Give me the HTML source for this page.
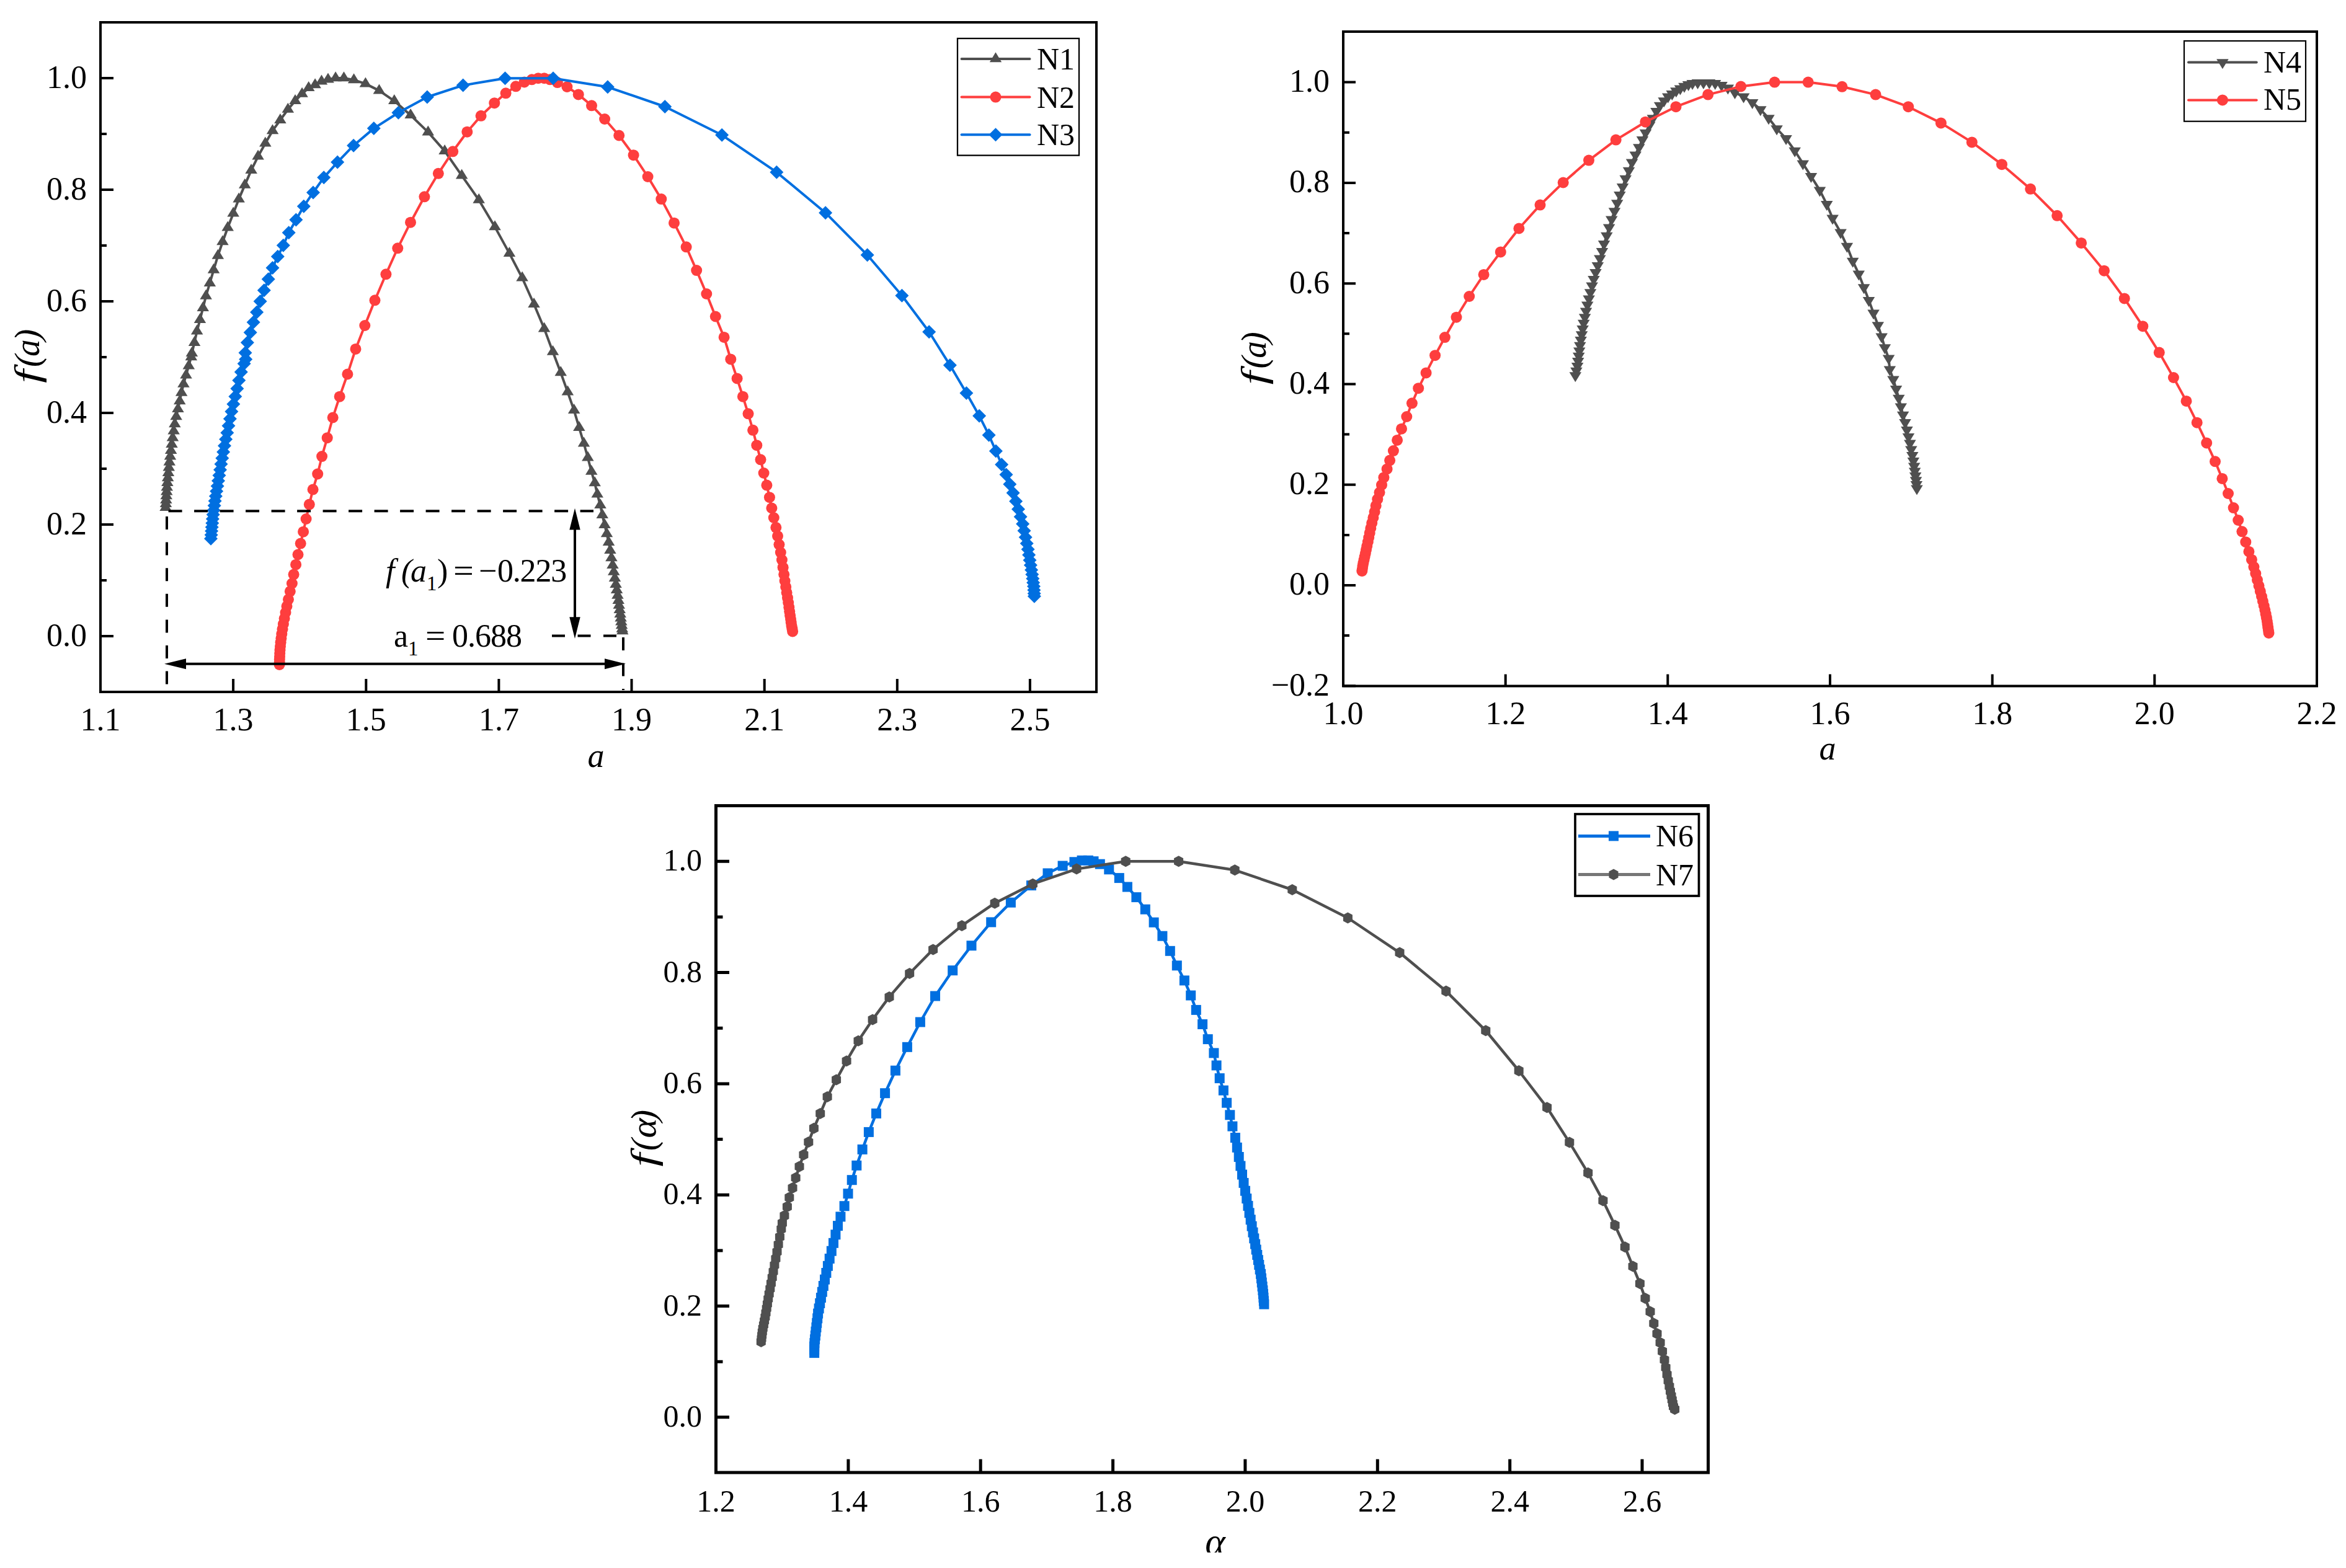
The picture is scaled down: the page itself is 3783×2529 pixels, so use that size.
<!DOCTYPE html>
<html><head><meta charset="utf-8"><style>html,body{margin:0;padding:0;background:#fff;overflow:hidden}svg{display:block}</style></head><body>
<svg width="3783" height="2529" viewBox="0 0 3783 2529">
<rect x="0" y="0" width="3783" height="2529" fill="#fff"/>
<rect x="162" y="36" width="1606" height="1080" fill="none" stroke="#000" stroke-width="4"/>
<path d="M162 1026H183M162 846H183M162 666H183M162 486H183M162 306H183M162 126H183M162 936H172M162 756H172M162 576H172M162 396H172M162 216H172M376.1 1116V1095M590.3 1116V1095M804.4 1116V1095M1018.5 1116V1095M1232.7 1116V1095M1446.8 1116V1095M1660.9 1116V1095" stroke="#000" stroke-width="4"/>
<g font-family="Liberation Serif, serif" font-size="52" fill="#000"><text x="140" y="1041.5" text-anchor="end">0.0</text>
<text x="140" y="861.5" text-anchor="end">0.2</text>
<text x="140" y="681.5" text-anchor="end">0.4</text>
<text x="140" y="501.5" text-anchor="end">0.6</text>
<text x="140" y="321.5" text-anchor="end">0.8</text>
<text x="140" y="141.5" text-anchor="end">1.0</text>
<text x="162" y="1178" text-anchor="middle">1.1</text>
<text x="376.1" y="1178" text-anchor="middle">1.3</text>
<text x="590.3" y="1178" text-anchor="middle">1.5</text>
<text x="804.4" y="1178" text-anchor="middle">1.7</text>
<text x="1018.5" y="1178" text-anchor="middle">1.9</text>
<text x="1232.7" y="1178" text-anchor="middle">2.1</text>
<text x="1446.8" y="1178" text-anchor="middle">2.3</text>
<text x="1660.9" y="1178" text-anchor="middle">2.5</text></g>
<rect x="2166" y="51" width="1570" height="1055.5" fill="none" stroke="#000" stroke-width="4"/>
<path d="M2166 1106.3H2186M2166 944H2186M2166 781.7H2186M2166 619.4H2186M2166 457.2H2186M2166 294.9H2186M2166 132.6H2186M2166 1025.1H2176M2166 862.9H2176M2166 700.6H2176M2166 538.3H2176M2166 376H2176M2166 213.7H2176M2427.7 1106.5V1087.5M2689.3 1106.5V1087.5M2951 1106.5V1087.5M3212.7 1106.5V1087.5M3474.3 1106.5V1087.5" stroke="#000" stroke-width="4"/>
<g font-family="Liberation Serif, serif" font-size="52" fill="#000"><text x="3000" y="0" text-anchor="end" transform="translate(-856 1121.6)">−0.2</text>
<text x="3000" y="0" text-anchor="end" transform="translate(-856 959.3)">0.0</text>
<text x="3000" y="0" text-anchor="end" transform="translate(-856 797)">0.2</text>
<text x="3000" y="0" text-anchor="end" transform="translate(-856 634.7)">0.4</text>
<text x="3000" y="0" text-anchor="end" transform="translate(-856 472.5)">0.6</text>
<text x="3000" y="0" text-anchor="end" transform="translate(-856 310.2)">0.8</text>
<text x="3000" y="0" text-anchor="end" transform="translate(-856 147.9)">1.0</text>
<text x="2166" y="1168" text-anchor="middle">1.0</text>
<text x="2427.7" y="1168" text-anchor="middle">1.2</text>
<text x="2689.3" y="1168" text-anchor="middle">1.4</text>
<text x="2951" y="1168" text-anchor="middle">1.6</text>
<text x="3212.7" y="1168" text-anchor="middle">1.8</text>
<text x="3474.3" y="1168" text-anchor="middle">2.0</text>
<text x="3736" y="1168" text-anchor="middle">2.2</text></g>
<rect x="1154.5" y="1299.5" width="1600" height="1075.5" fill="none" stroke="#000" stroke-width="5"/>
<path d="M1154.5 2285.8H1176M1154.5 2106.5H1176M1154.5 1927.2H1176M1154.5 1747.9H1176M1154.5 1568.6H1176M1154.5 1389.3H1176M1154.5 2196.2H1165.5M1154.5 2016.9H1165.5M1154.5 1837.6H1165.5M1154.5 1658.2H1165.5M1154.5 1479H1165.5M1367.9 2375V2353.5M1581.2 2375V2353.5M1794.6 2375V2353.5M2007.9 2375V2353.5M2221.3 2375V2353.5M2434.7 2375V2353.5M2648 2375V2353.5" stroke="#000" stroke-width="5"/>
<g font-family="Liberation Serif, serif" font-size="50" fill="#000"><text x="1132" y="2300.8" text-anchor="end">0.0</text>
<text x="1132" y="2121.5" text-anchor="end">0.2</text>
<text x="1132" y="1942.2" text-anchor="end">0.4</text>
<text x="1132" y="1762.9" text-anchor="end">0.6</text>
<text x="1132" y="1583.6" text-anchor="end">0.8</text>
<text x="1132" y="1404.3" text-anchor="end">1.0</text>
<text x="1154.5" y="2437.5" text-anchor="middle">1.2</text>
<text x="1367.9" y="2437.5" text-anchor="middle">1.4</text>
<text x="1581.2" y="2437.5" text-anchor="middle">1.6</text>
<text x="1794.6" y="2437.5" text-anchor="middle">1.8</text>
<text x="2007.9" y="2437.5" text-anchor="middle">2.0</text>
<text x="2221.3" y="2437.5" text-anchor="middle">2.2</text>
<text x="2434.7" y="2437.5" text-anchor="middle">2.4</text>
<text x="2648" y="2437.5" text-anchor="middle">2.6</text></g>
<g font-family="Liberation Serif, serif" fill="#000"><text transform="translate(63 618) rotate(-90) scale(1.35 1)" font-style="italic" font-size="58">f</text>
<text transform="translate(63 591.9) rotate(-90) scale(1.0 1)" font-style="italic" font-size="58">(</text>
<text transform="translate(63 574.9) rotate(-90) scale(0.95 1)" font-style="italic" font-size="58">a</text>
<text transform="translate(63 550.1) rotate(-90) scale(1.0 1)" font-style="italic" font-size="58">)</text>
<text x="961" y="1237" text-anchor="middle" font-style="italic" font-size="54">a</text>
<text transform="translate(2041.4 620.4) rotate(-90) scale(1.35 1)" font-style="italic" font-size="58">f</text>
<text transform="translate(2041.4 594.6) rotate(-90) scale(1.0 1)" font-style="italic" font-size="58">(</text>
<text transform="translate(2041.4 577.7) rotate(-90) scale(0.95 1)" font-style="italic" font-size="58">a</text>
<text transform="translate(2041.4 554.4) rotate(-90) scale(1.0 1)" font-style="italic" font-size="58">)</text>
<text x="2947" y="1225" text-anchor="middle" font-style="italic" font-size="54">a</text>
<text transform="translate(1056.5 1881.8) rotate(-90) scale(1.35 1)" font-style="italic" font-size="58">f</text>
<text transform="translate(1056.5 1856) rotate(-90) scale(1.0 1)" font-style="italic" font-size="58">(</text>
<text transform="translate(1056.5 1835.4) rotate(-90) scale(1.05 1)" font-style="italic" font-size="58">α</text>
<text transform="translate(1056.5 1809.3) rotate(-90) scale(1.0 1)" font-style="italic" font-size="58">)</text>
<clipPath id="cl"><rect x="1900" y="2440" width="120" height="64"/></clipPath><text x="1959.5" y="2507" clip-path="url(#cl)" text-anchor="middle" font-style="italic" font-size="62">α</text></g>
<path d="M267 818.8 L267.4 812.8 L267.8 806.5 L268.3 800 L268.7 793.2 L269.2 786 L269.8 778.6 L270.6 770.9 L271.4 762.8 L272.3 754.3 L273.2 745.5 L274.4 736.3 L275.7 726.7 L277 716.6 L278.5 706.2 L280.1 695.2 L281.8 683.8 L284.2 672 L286.9 659.7 L289.8 646.9 L292.6 633.5 L295.9 619.5 L300 605.1 L304.3 590 L308.3 576 L309.4 569.7 L313.5 552.5 L317.6 534.3 L322.5 515.7 L327.3 496.7 L332.1 477.5 L338.3 456.8 L344.5 435.4 L351.4 412.4 L359 390 L367.2 367.3 L376.2 344.2 L385.1 321.1 L394.8 298.4 L405.1 274.6 L416.1 252.3 L427.8 231.2 L439.5 210.9 L451.9 193.7 L464.3 176.5 L476 162.7 L487.1 151.4 L497.7 141.7 L508.1 137 L518.5 131.3 L529 128.2 L541.1 126 L554.5 126 L570.6 128.9 L589.4 135.1 L611.4 146.1 L635.8 162.8 L662.1 185.8 L690.3 213.1 L717.1 243.6 L744.6 283.2 L772.2 322.5 L798 365.9 L821.4 408.6 L842.1 448.2 L861 490.5 L877.6 530.1 L891.5 567.5 L904.2 601 L915.4 632.3 L925.6 661.6 L933.9 689.7 L941.5 715.2 L947.9 738.2 L953.7 760.5 L959.1 779 L963.2 797.2 L968 814.7 L971.2 830.7 L975 846.6 L978.5 861 L981.5 874.7 L983.9 887.7 L986 899.9 L987.9 911.5 L989.7 922.5 L991.5 932.8 L993.1 942.5 L994.6 951.7 L996 960.4 L997.2 968.6 L998.3 976.3 L999.3 983.6 L1000.2 990.5 L1001.1 997.1 L1001.8 1003.2 L1002.6 1009 L1003.3 1014.5 L1003.7 1018" fill="none" stroke="#4f4f4f" stroke-width="4" stroke-linejoin="round"/>
<g fill="#4f4f4f">
<path d="M267 808.1L276.8 824.1L257.3 824.1Z"/>
<path d="M267.4 802.1L277.2 818.1L257.7 818.1Z"/>
<path d="M267.8 795.9L277.6 811.9L258.1 811.9Z"/>
<path d="M268.3 789.3L278 805.3L258.5 805.3Z"/>
<path d="M268.7 782.5L278.5 798.5L259 798.5Z"/>
<path d="M269.2 775.4L279 791.4L259.5 791.4Z"/>
<path d="M269.8 767.9L279.6 783.9L260.1 783.9Z"/>
<path d="M270.6 760.2L280.4 776.2L260.9 776.2Z"/>
<path d="M271.4 752.1L281.2 768.1L261.7 768.1Z"/>
<path d="M272.3 743.6L282 759.6L262.5 759.6Z"/>
<path d="M273.2 734.8L283 750.8L263.5 750.8Z"/>
<path d="M274.4 725.6L284.2 741.6L264.7 741.6Z"/>
<path d="M275.7 716L285.4 732L265.9 732Z"/>
<path d="M277 706L286.7 722L267.2 722Z"/>
<path d="M278.5 695.5L288.2 711.5L268.7 711.5Z"/>
<path d="M280.1 684.6L289.9 700.6L270.4 700.6Z"/>
<path d="M281.8 673.2L291.6 689.2L272.1 689.2Z"/>
<path d="M284.2 661.3L293.9 677.3L274.4 677.3Z"/>
<path d="M286.9 649.1L296.7 665.1L277.2 665.1Z"/>
<path d="M289.8 636.2L299.5 652.2L280 652.2Z"/>
<path d="M292.6 622.8L302.4 638.8L282.9 638.8Z"/>
<path d="M295.9 608.8L305.7 624.8L286.2 624.8Z"/>
<path d="M300 594.4L309.8 610.4L290.3 610.4Z"/>
<path d="M304.3 579.4L314.1 595.4L294.6 595.4Z"/>
<path d="M308.3 565.3L318.1 581.3L298.6 581.3Z"/>
<path d="M309.4 559.1L319.1 575.1L299.6 575.1Z"/>
<path d="M313.5 541.9L323.3 557.9L303.8 557.9Z"/>
<path d="M317.6 523.6L327.4 539.6L307.9 539.6Z"/>
<path d="M322.5 505L332.2 521L312.7 521Z"/>
<path d="M327.3 486.1L337 502.1L317.5 502.1Z"/>
<path d="M332.1 466.8L341.9 482.8L322.4 482.8Z"/>
<path d="M338.3 446.1L348.1 462.1L328.6 462.1Z"/>
<path d="M344.5 424.8L354.3 440.8L334.8 440.8Z"/>
<path d="M351.4 401.7L361.1 417.7L341.6 417.7Z"/>
<path d="M359 379.3L368.7 395.3L349.2 395.3Z"/>
<path d="M367.2 356.6L377 372.6L357.5 372.6Z"/>
<path d="M376.2 333.5L385.9 349.5L366.4 349.5Z"/>
<path d="M385.1 310.5L394.9 326.5L375.4 326.5Z"/>
<path d="M394.8 287.7L404.5 303.7L385 303.7Z"/>
<path d="M405.1 264L414.9 280L395.4 280Z"/>
<path d="M416.1 241.6L425.9 257.6L406.4 257.6Z"/>
<path d="M427.8 220.6L437.6 236.6L418.1 236.6Z"/>
<path d="M439.5 200.3L449.3 216.3L429.8 216.3Z"/>
<path d="M451.9 183L461.7 199L442.2 199Z"/>
<path d="M464.3 165.8L474.1 181.8L454.6 181.8Z"/>
<path d="M476 152.1L485.8 168.1L466.3 168.1Z"/>
<path d="M487.1 140.7L496.8 156.7L477.3 156.7Z"/>
<path d="M497.7 131L507.5 147L488 147Z"/>
<path d="M508.1 126.3L517.9 142.3L498.4 142.3Z"/>
<path d="M518.5 120.6L528.2 136.6L508.8 136.6Z"/>
<path d="M529 117.5L538.8 133.5L519.2 133.5Z"/>
<path d="M541.1 115.3L550.9 131.3L531.4 131.3Z"/>
<path d="M554.5 115.3L564.2 131.3L544.8 131.3Z"/>
<path d="M570.6 118.2L580.4 134.2L560.9 134.2Z"/>
<path d="M589.4 124.4L599.1 140.4L579.6 140.4Z"/>
<path d="M611.4 135.4L621.1 151.4L601.6 151.4Z"/>
<path d="M635.8 152.1L645.5 168.1L626 168.1Z"/>
<path d="M662.1 175.1L671.9 191.1L652.4 191.1Z"/>
<path d="M690.3 202.4L700 218.4L680.5 218.4Z"/>
<path d="M717.1 233L726.8 249L707.3 249Z"/>
<path d="M744.6 272.6L754.4 288.6L734.9 288.6Z"/>
<path d="M772.2 311.8L781.9 327.8L762.4 327.8Z"/>
<path d="M798 355.2L807.8 371.2L788.3 371.2Z"/>
<path d="M821.4 397.9L831.2 413.9L811.7 413.9Z"/>
<path d="M842.1 437.5L851.8 453.5L832.3 453.5Z"/>
<path d="M861 479.9L870.8 495.9L851.3 495.9Z"/>
<path d="M877.6 519.5L887.3 535.5L867.8 535.5Z"/>
<path d="M891.5 556.8L901.2 572.8L881.8 572.8Z"/>
<path d="M904.2 590.3L914 606.3L894.5 606.3Z"/>
<path d="M915.4 621.6L925.1 637.6L905.6 637.6Z"/>
<path d="M925.6 650.9L935.4 666.9L915.9 666.9Z"/>
<path d="M933.9 679L943.6 695L924.1 695Z"/>
<path d="M941.5 704.5L951.2 720.5L931.8 720.5Z"/>
<path d="M947.9 727.5L957.6 743.5L938.1 743.5Z"/>
<path d="M953.7 749.8L963.5 765.8L944 765.8Z"/>
<path d="M959.1 768.3L968.9 784.3L949.4 784.3Z"/>
<path d="M963.2 786.5L973 802.5L953.5 802.5Z"/>
<path d="M968 804L977.8 820L958.2 820Z"/>
<path d="M971.2 820L981 836L961.5 836Z"/>
<path d="M975 835.9L984.8 851.9L965.2 851.9Z"/>
<path d="M978.5 850.3L988.2 866.3L968.8 866.3Z"/>
<path d="M981.5 864L991.3 880L971.8 880Z"/>
<path d="M983.9 877L993.7 893L974.2 893Z"/>
<path d="M986 889.3L995.7 905.3L976.2 905.3Z"/>
<path d="M987.9 900.9L997.7 916.9L978.2 916.9Z"/>
<path d="M989.7 911.8L999.5 927.8L980 927.8Z"/>
<path d="M991.5 922.1L1001.2 938.1L981.7 938.1Z"/>
<path d="M993.1 931.9L1002.8 947.9L983.3 947.9Z"/>
<path d="M994.6 941.1L1004.3 957.1L984.8 957.1Z"/>
<path d="M996 949.7L1005.7 965.7L986.2 965.7Z"/>
<path d="M997.2 957.9L1007 973.9L987.5 973.9Z"/>
<path d="M998.3 965.7L1008 981.7L988.5 981.7Z"/>
<path d="M999.3 973L1009 989L989.5 989Z"/>
<path d="M1000.2 979.9L1010 995.9L990.5 995.9Z"/>
<path d="M1001.1 986.4L1010.8 1002.4L991.3 1002.4Z"/>
<path d="M1001.8 992.5L1011.6 1008.5L992.1 1008.5Z"/>
<path d="M1002.6 998.3L1012.3 1014.3L992.8 1014.3Z"/>
<path d="M1003.3 1003.8L1013 1019.8L993.5 1019.8Z"/>
<path d="M1003.7 1007.3L1013.5 1023.3L994 1023.3Z"/>
</g>
<path d="M450.6 1071.9 L450.7 1067.8 L450.8 1063.4 L451 1058.8 L451.2 1053.7 L451.5 1048.3 L452 1042.5 L452.6 1036.2 L453.4 1029.5 L454.3 1022.4 L455.5 1014.6 L456.9 1006.4 L458.6 997.5 L460.5 988 L462.5 977.8 L465 966.8 L467.8 953.8 L470.9 941 L473.6 926.6 L477.1 910.7 L480.5 894.5 L484.7 876.6 L489.1 857.7 L493.6 837 L498.8 813.6 L504.6 789.5 L512.2 764.4 L519.1 736.1 L527.7 706.2 L536.7 673.5 L547.7 639.7 L560.4 603.5 L573.5 562.9 L588.3 525 L604.5 484.3 L622.4 442.3 L641.3 400.3 L662 358.7 L684.4 317.3 L706.8 279.8 L730.2 244.3 L753.3 212.7 L775.6 186.8 L797.3 166.2 L815.6 150.3 L831.8 139.3 L845.5 132.4 L857.6 128.3 L867.9 126.2 L877.6 126.2 L886.9 128.3 L898.9 133.1 L914.4 140 L932.7 152.4 L954 170.3 L975.1 192 L998.2 218.5 L1021.6 250.2 L1044.6 285 L1066.3 321.1 L1087 359.7 L1106.6 398.3 L1123.2 436.1 L1139.3 474 L1153.8 510.5 L1167.6 543.9 L1178.3 579.4 L1188.6 610.4 L1197.9 639.7 L1206.5 667.3 L1214.1 693.8 L1220.3 718.2 L1226.5 741.3 L1231.6 763 L1236.4 782.6 L1240.9 802.2 L1244.4 819.5 L1247.8 835 L1251.3 850.8 L1254 864.6 L1256.4 878.3 L1258.8 891.1 L1260.9 903.1 L1262.6 915.2 L1264.2 926.5 L1265.6 937 L1267.2 946.7 L1268.6 955.8 L1270 964.2 L1271.2 972.1 L1272.3 979.4 L1273.2 986.3 L1274.1 992.7 L1275 998.6 L1275.7 1004.1 L1276.5 1009.3 L1277.4 1014 L1278.1 1018.5" fill="none" stroke="#fe3e3e" stroke-width="4" stroke-linejoin="round"/>
<g fill="#fe3e3e">
<circle cx="450.6" cy="1071.9" r="9"/>
<circle cx="450.7" cy="1067.8" r="9"/>
<circle cx="450.8" cy="1063.4" r="9"/>
<circle cx="451" cy="1058.8" r="9"/>
<circle cx="451.2" cy="1053.7" r="9"/>
<circle cx="451.5" cy="1048.3" r="9"/>
<circle cx="452" cy="1042.5" r="9"/>
<circle cx="452.6" cy="1036.2" r="9"/>
<circle cx="453.4" cy="1029.5" r="9"/>
<circle cx="454.3" cy="1022.4" r="9"/>
<circle cx="455.5" cy="1014.6" r="9"/>
<circle cx="456.9" cy="1006.4" r="9"/>
<circle cx="458.6" cy="997.5" r="9"/>
<circle cx="460.5" cy="988" r="9"/>
<circle cx="462.5" cy="977.8" r="9"/>
<circle cx="465" cy="966.8" r="9"/>
<circle cx="467.8" cy="953.8" r="9"/>
<circle cx="470.9" cy="941" r="9"/>
<circle cx="473.6" cy="926.6" r="9"/>
<circle cx="477.1" cy="910.7" r="9"/>
<circle cx="480.5" cy="894.5" r="9"/>
<circle cx="484.7" cy="876.6" r="9"/>
<circle cx="489.1" cy="857.7" r="9"/>
<circle cx="493.6" cy="837" r="9"/>
<circle cx="498.8" cy="813.6" r="9"/>
<circle cx="504.6" cy="789.5" r="9"/>
<circle cx="512.2" cy="764.4" r="9"/>
<circle cx="519.1" cy="736.1" r="9"/>
<circle cx="527.7" cy="706.2" r="9"/>
<circle cx="536.7" cy="673.5" r="9"/>
<circle cx="547.7" cy="639.7" r="9"/>
<circle cx="560.4" cy="603.5" r="9"/>
<circle cx="573.5" cy="562.9" r="9"/>
<circle cx="588.3" cy="525" r="9"/>
<circle cx="604.5" cy="484.3" r="9"/>
<circle cx="622.4" cy="442.3" r="9"/>
<circle cx="641.3" cy="400.3" r="9"/>
<circle cx="662" cy="358.7" r="9"/>
<circle cx="684.4" cy="317.3" r="9"/>
<circle cx="706.8" cy="279.8" r="9"/>
<circle cx="730.2" cy="244.3" r="9"/>
<circle cx="753.3" cy="212.7" r="9"/>
<circle cx="775.6" cy="186.8" r="9"/>
<circle cx="797.3" cy="166.2" r="9"/>
<circle cx="815.6" cy="150.3" r="9"/>
<circle cx="831.8" cy="139.3" r="9"/>
<circle cx="845.5" cy="132.4" r="9"/>
<circle cx="857.6" cy="128.3" r="9"/>
<circle cx="867.9" cy="126.2" r="9"/>
<circle cx="877.6" cy="126.2" r="9"/>
<circle cx="886.9" cy="128.3" r="9"/>
<circle cx="898.9" cy="133.1" r="9"/>
<circle cx="914.4" cy="140" r="9"/>
<circle cx="932.7" cy="152.4" r="9"/>
<circle cx="954" cy="170.3" r="9"/>
<circle cx="975.1" cy="192" r="9"/>
<circle cx="998.2" cy="218.5" r="9"/>
<circle cx="1021.6" cy="250.2" r="9"/>
<circle cx="1044.6" cy="285" r="9"/>
<circle cx="1066.3" cy="321.1" r="9"/>
<circle cx="1087" cy="359.7" r="9"/>
<circle cx="1106.6" cy="398.3" r="9"/>
<circle cx="1123.2" cy="436.1" r="9"/>
<circle cx="1139.3" cy="474" r="9"/>
<circle cx="1153.8" cy="510.5" r="9"/>
<circle cx="1167.6" cy="543.9" r="9"/>
<circle cx="1178.3" cy="579.4" r="9"/>
<circle cx="1188.6" cy="610.4" r="9"/>
<circle cx="1197.9" cy="639.7" r="9"/>
<circle cx="1206.5" cy="667.3" r="9"/>
<circle cx="1214.1" cy="693.8" r="9"/>
<circle cx="1220.3" cy="718.2" r="9"/>
<circle cx="1226.5" cy="741.3" r="9"/>
<circle cx="1231.6" cy="763" r="9"/>
<circle cx="1236.4" cy="782.6" r="9"/>
<circle cx="1240.9" cy="802.2" r="9"/>
<circle cx="1244.4" cy="819.5" r="9"/>
<circle cx="1247.8" cy="835" r="9"/>
<circle cx="1251.3" cy="850.8" r="9"/>
<circle cx="1254" cy="864.6" r="9"/>
<circle cx="1256.4" cy="878.3" r="9"/>
<circle cx="1258.8" cy="891.1" r="9"/>
<circle cx="1260.9" cy="903.1" r="9"/>
<circle cx="1262.6" cy="915.2" r="9"/>
<circle cx="1264.2" cy="926.5" r="9"/>
<circle cx="1265.6" cy="937" r="9"/>
<circle cx="1267.2" cy="946.7" r="9"/>
<circle cx="1268.6" cy="955.8" r="9"/>
<circle cx="1270" cy="964.2" r="9"/>
<circle cx="1271.2" cy="972.1" r="9"/>
<circle cx="1272.3" cy="979.4" r="9"/>
<circle cx="1273.2" cy="986.3" r="9"/>
<circle cx="1274.1" cy="992.7" r="9"/>
<circle cx="1275" cy="998.6" r="9"/>
<circle cx="1275.7" cy="1004.1" r="9"/>
<circle cx="1276.5" cy="1009.3" r="9"/>
<circle cx="1277.4" cy="1014" r="9"/>
<circle cx="1278.1" cy="1018.5" r="9"/>
</g>
<path d="M340 868.7 L340.6 862.7 L341.1 856.6 L341.7 850.2 L342.3 843.7 L342.9 836.9 L343.7 830 L344.6 822.9 L345.6 815.5 L346.6 808 L347.9 800.2 L349.2 792.2 L350.6 784 L352 775.5 L353.5 766.8 L355 757.8 L356.5 748.5 L358.3 738.9 L360.1 729.1 L362 719 L364.1 708.6 L366.3 697.9 L368.5 686.8 L370.9 675.5 L373.4 663.8 L376.4 651.8 L379.4 639.4 L382.4 626.7 L385.3 613.5 L388.8 600.1 L393.6 586.6 L396.2 579.4 L395.5 569.1 L398.9 552.5 L403.7 536.3 L408.6 519.8 L414.1 503.6 L419.6 486.1 L425.8 468.2 L432.7 450.3 L439.5 432 L447.8 413.8 L456.8 395.8 L465.7 375.2 L477.4 354.5 L489.8 332.8 L505 310.4 L522.2 286.3 L544.2 261.6 L570.1 234.7 L602.8 207.1 L642.4 181.7 L688.9 156.5 L746.7 137.6 L814.5 126.2 L892 126.2 L979.9 140.3 L1072.2 172 L1164.1 217.8 L1252.3 277.7 L1331.1 343.2 L1398.6 411.3 L1454.4 476.8 L1498.2 535.3 L1531.9 589.1 L1558.4 633.9 L1579.1 670.7 L1594.6 701.7 L1605.9 727.5 L1615.2 749.2 L1622.5 765.4 L1628.3 780.9 L1633.6 794.9 L1638.1 808.4 L1642 821.2 L1645.6 833.4 L1649.1 844.9 L1651.5 856.1 L1653.7 866.6 L1655.7 876.6 L1657.6 886 L1659.1 895 L1660.5 903.5 L1661.9 911.6 L1663.1 919.2 L1664.3 926.4 L1665.3 933.2 L1666.1 939.7 L1667 945.8 L1667.4 951.7 L1667.7 957.2 L1667.9 961.7" fill="none" stroke="#006fe0" stroke-width="4" stroke-linejoin="round"/>
<g fill="#006fe0">
<path d="M340 857.7L351 868.7L340 879.7L329 868.7Z"/>
<path d="M340.6 851.7L351.6 862.7L340.6 873.7L329.6 862.7Z"/>
<path d="M341.1 845.6L352.1 856.6L341.1 867.6L330.1 856.6Z"/>
<path d="M341.7 839.2L352.7 850.2L341.7 861.2L330.7 850.2Z"/>
<path d="M342.3 832.7L353.3 843.7L342.3 854.7L331.3 843.7Z"/>
<path d="M342.9 825.9L353.9 836.9L342.9 847.9L331.9 836.9Z"/>
<path d="M343.7 819L354.7 830L343.7 841L332.7 830Z"/>
<path d="M344.6 811.9L355.6 822.9L344.6 833.9L333.6 822.9Z"/>
<path d="M345.6 804.5L356.6 815.5L345.6 826.5L334.6 815.5Z"/>
<path d="M346.6 797L357.6 808L346.6 819L335.6 808Z"/>
<path d="M347.9 789.2L358.9 800.2L347.9 811.2L336.9 800.2Z"/>
<path d="M349.2 781.2L360.2 792.2L349.2 803.2L338.2 792.2Z"/>
<path d="M350.6 773L361.6 784L350.6 795L339.6 784Z"/>
<path d="M352 764.5L363 775.5L352 786.5L341 775.5Z"/>
<path d="M353.5 755.8L364.5 766.8L353.5 777.8L342.5 766.8Z"/>
<path d="M355 746.8L366 757.8L355 768.8L344 757.8Z"/>
<path d="M356.5 737.5L367.5 748.5L356.5 759.5L345.5 748.5Z"/>
<path d="M358.3 727.9L369.3 738.9L358.3 749.9L347.3 738.9Z"/>
<path d="M360.1 718.1L371.1 729.1L360.1 740.1L349.1 729.1Z"/>
<path d="M362 708L373 719L362 730L351 719Z"/>
<path d="M364.1 697.6L375.1 708.6L364.1 719.6L353.1 708.6Z"/>
<path d="M366.3 686.9L377.3 697.9L366.3 708.9L355.3 697.9Z"/>
<path d="M368.5 675.8L379.5 686.8L368.5 697.8L357.5 686.8Z"/>
<path d="M370.9 664.5L381.9 675.5L370.9 686.5L359.9 675.5Z"/>
<path d="M373.4 652.8L384.4 663.8L373.4 674.8L362.4 663.8Z"/>
<path d="M376.4 640.8L387.4 651.8L376.4 662.8L365.4 651.8Z"/>
<path d="M379.4 628.4L390.4 639.4L379.4 650.4L368.4 639.4Z"/>
<path d="M382.4 615.7L393.4 626.7L382.4 637.7L371.4 626.7Z"/>
<path d="M385.3 602.5L396.3 613.5L385.3 624.5L374.3 613.5Z"/>
<path d="M388.8 589.1L399.8 600.1L388.8 611.1L377.8 600.1Z"/>
<path d="M393.6 575.6L404.6 586.6L393.6 597.6L382.6 586.6Z"/>
<path d="M396.2 568.4L407.2 579.4L396.2 590.4L385.2 579.4Z"/>
<path d="M395.5 558.1L406.5 569.1L395.5 580.1L384.5 569.1Z"/>
<path d="M398.9 541.5L409.9 552.5L398.9 563.5L387.9 552.5Z"/>
<path d="M403.7 525.3L414.7 536.3L403.7 547.3L392.7 536.3Z"/>
<path d="M408.6 508.8L419.6 519.8L408.6 530.8L397.6 519.8Z"/>
<path d="M414.1 492.6L425.1 503.6L414.1 514.6L403.1 503.6Z"/>
<path d="M419.6 475.1L430.6 486.1L419.6 497.1L408.6 486.1Z"/>
<path d="M425.8 457.2L436.8 468.2L425.8 479.2L414.8 468.2Z"/>
<path d="M432.7 439.3L443.7 450.3L432.7 461.3L421.7 450.3Z"/>
<path d="M439.5 421L450.5 432L439.5 443L428.5 432Z"/>
<path d="M447.8 402.8L458.8 413.8L447.8 424.8L436.8 413.8Z"/>
<path d="M456.8 384.8L467.8 395.8L456.8 406.8L445.8 395.8Z"/>
<path d="M465.7 364.2L476.7 375.2L465.7 386.2L454.7 375.2Z"/>
<path d="M477.4 343.5L488.4 354.5L477.4 365.5L466.4 354.5Z"/>
<path d="M489.8 321.8L500.8 332.8L489.8 343.8L478.8 332.8Z"/>
<path d="M505 299.4L516 310.4L505 321.4L494 310.4Z"/>
<path d="M522.2 275.3L533.2 286.3L522.2 297.3L511.2 286.3Z"/>
<path d="M544.2 250.6L555.2 261.6L544.2 272.6L533.2 261.6Z"/>
<path d="M570.1 223.7L581.1 234.7L570.1 245.7L559.1 234.7Z"/>
<path d="M602.8 196.1L613.8 207.1L602.8 218.1L591.8 207.1Z"/>
<path d="M642.4 170.7L653.4 181.7L642.4 192.7L631.4 181.7Z"/>
<path d="M688.9 145.5L699.9 156.5L688.9 167.5L677.9 156.5Z"/>
<path d="M746.7 126.6L757.7 137.6L746.7 148.6L735.7 137.6Z"/>
<path d="M814.5 115.2L825.5 126.2L814.5 137.2L803.5 126.2Z"/>
<path d="M892 115.2L903 126.2L892 137.2L881 126.2Z"/>
<path d="M979.9 129.3L990.9 140.3L979.9 151.3L968.9 140.3Z"/>
<path d="M1072.2 161L1083.2 172L1072.2 183L1061.2 172Z"/>
<path d="M1164.1 206.8L1175.1 217.8L1164.1 228.8L1153.1 217.8Z"/>
<path d="M1252.3 266.7L1263.3 277.7L1252.3 288.7L1241.3 277.7Z"/>
<path d="M1331.1 332.2L1342.1 343.2L1331.1 354.2L1320.1 343.2Z"/>
<path d="M1398.6 400.3L1409.6 411.3L1398.6 422.3L1387.6 411.3Z"/>
<path d="M1454.4 465.8L1465.4 476.8L1454.4 487.8L1443.4 476.8Z"/>
<path d="M1498.2 524.3L1509.2 535.3L1498.2 546.3L1487.2 535.3Z"/>
<path d="M1531.9 578.1L1542.9 589.1L1531.9 600.1L1520.9 589.1Z"/>
<path d="M1558.4 622.9L1569.4 633.9L1558.4 644.9L1547.4 633.9Z"/>
<path d="M1579.1 659.7L1590.1 670.7L1579.1 681.7L1568.1 670.7Z"/>
<path d="M1594.6 690.7L1605.6 701.7L1594.6 712.7L1583.6 701.7Z"/>
<path d="M1605.9 716.5L1616.9 727.5L1605.9 738.5L1594.9 727.5Z"/>
<path d="M1615.2 738.2L1626.2 749.2L1615.2 760.2L1604.2 749.2Z"/>
<path d="M1622.5 754.4L1633.5 765.4L1622.5 776.4L1611.5 765.4Z"/>
<path d="M1628.3 769.9L1639.3 780.9L1628.3 791.9L1617.3 780.9Z"/>
<path d="M1633.6 783.9L1644.6 794.9L1633.6 805.9L1622.6 794.9Z"/>
<path d="M1638.1 797.4L1649.1 808.4L1638.1 819.4L1627.1 808.4Z"/>
<path d="M1642 810.2L1653 821.2L1642 832.2L1631 821.2Z"/>
<path d="M1645.6 822.4L1656.6 833.4L1645.6 844.4L1634.6 833.4Z"/>
<path d="M1649.1 833.9L1660.1 844.9L1649.1 855.9L1638.1 844.9Z"/>
<path d="M1651.5 845.1L1662.5 856.1L1651.5 867.1L1640.5 856.1Z"/>
<path d="M1653.7 855.6L1664.7 866.6L1653.7 877.6L1642.7 866.6Z"/>
<path d="M1655.7 865.6L1666.7 876.6L1655.7 887.6L1644.7 876.6Z"/>
<path d="M1657.6 875L1668.6 886L1657.6 897L1646.6 886Z"/>
<path d="M1659.1 884L1670.1 895L1659.1 906L1648.1 895Z"/>
<path d="M1660.5 892.5L1671.5 903.5L1660.5 914.5L1649.5 903.5Z"/>
<path d="M1661.9 900.6L1672.9 911.6L1661.9 922.6L1650.9 911.6Z"/>
<path d="M1663.1 908.2L1674.1 919.2L1663.1 930.2L1652.1 919.2Z"/>
<path d="M1664.3 915.4L1675.3 926.4L1664.3 937.4L1653.3 926.4Z"/>
<path d="M1665.3 922.2L1676.3 933.2L1665.3 944.2L1654.3 933.2Z"/>
<path d="M1666.1 928.7L1677.1 939.7L1666.1 950.7L1655.1 939.7Z"/>
<path d="M1667 934.8L1678 945.8L1667 956.8L1656 945.8Z"/>
<path d="M1667.4 940.7L1678.4 951.7L1667.4 962.7L1656.4 951.7Z"/>
<path d="M1667.7 946.2L1678.7 957.2L1667.7 968.2L1656.7 957.2Z"/>
<path d="M1667.9 950.7L1678.9 961.7L1667.9 972.7L1656.9 961.7Z"/>
</g>
<path d="M2540.3 605.6 L2541.9 598.1 L2543.6 590.3 L2544.8 582.4 L2545.8 574.2 L2546.8 565.8 L2547.8 557.2 L2549.1 548.4 L2550.6 539.5 L2552.1 530.4 L2553.7 521 L2555.6 511.5 L2557.6 501.8 L2559.7 491.9 L2562.1 481.8 L2564.5 471.5 L2567.2 461 L2569.9 450.2 L2573 439.3 L2576.4 428.2 L2579.9 416.8 L2583.4 405.2 L2586.6 393.2 L2590.9 380.1 L2594.6 366.9 L2598.8 353.8 L2603.5 340.7 L2607.8 327.6 L2611.9 314.4 L2616.6 301.3 L2621.3 288.2 L2626.5 275 L2631.6 261.9 L2637.2 249.7 L2642.8 237.5 L2648.5 225.3 L2653.5 214.1 L2659.7 201.9 L2665.3 190.6 L2671 179.4 L2676.6 170 L2683.2 162.5 L2689.7 155.9 L2696.3 151.3 L2702.9 146.6 L2709.4 142.8 L2716 139.1 L2722.6 136.3 L2729.1 134.4 L2737.6 133.4 L2746.9 133.4 L2756.3 133.4 L2765.7 134.4 L2776 137.2 L2786.3 141.9 L2797.6 149.4 L2811.6 155.9 L2825.7 165.3 L2838.8 176.6 L2852 190.6 L2865.1 207.5 L2880.1 223.5 L2894.2 243.2 L2907.3 263.8 L2920.4 284.4 L2934.5 306.9 L2945.7 329.4 L2955.1 351.9 L2968 374.7 L2978.4 397.1 L2987.7 421.2 L2997.3 441.8 L3005.6 463.5 L3013.5 484.2 L3021.1 504.9 L3028.3 524.5 L3034.1 542.7 L3039.3 560.6 L3045.5 577.9 L3047.3 595.8 L3053 611.9 L3057.6 627.4 L3061.8 642 L3065.2 656 L3068.7 669.1 L3072.1 681.5 L3074.9 693.2 L3077.5 704.4 L3079.9 714.9 L3081.9 724.9 L3083.8 734.3 L3085.4 743.3 L3086.6 751.7 L3087.7 759.8 L3088.6 767.4 L3089.5 774.5 L3090.3 781.3 L3091 787.7" fill="none" stroke="#4f4f4f" stroke-width="4" stroke-linejoin="round"/>
<g fill="#4f4f4f">
<path d="M2540.3 616.3L2550.1 600.3L2530.6 600.3Z"/>
<path d="M2541.9 608.7L2551.7 592.7L2532.2 592.7Z"/>
<path d="M2543.6 601L2553.4 585L2533.9 585Z"/>
<path d="M2544.8 593L2554.5 577L2535 577Z"/>
<path d="M2545.8 584.8L2555.5 568.8L2536 568.8Z"/>
<path d="M2546.8 576.4L2556.5 560.4L2537 560.4Z"/>
<path d="M2547.8 567.8L2557.6 551.8L2538.1 551.8Z"/>
<path d="M2549.1 559.1L2558.9 543.1L2539.4 543.1Z"/>
<path d="M2550.6 550.2L2560.4 534.2L2540.9 534.2Z"/>
<path d="M2552.1 541L2561.9 525L2542.4 525Z"/>
<path d="M2553.7 531.7L2563.5 515.7L2544 515.7Z"/>
<path d="M2555.6 522.2L2565.4 506.2L2545.9 506.2Z"/>
<path d="M2557.6 512.5L2567.3 496.5L2547.8 496.5Z"/>
<path d="M2559.7 502.6L2569.5 486.6L2550 486.6Z"/>
<path d="M2562.1 492.5L2571.9 476.5L2552.4 476.5Z"/>
<path d="M2564.5 482.2L2574.3 466.2L2554.8 466.2Z"/>
<path d="M2567.2 471.6L2576.9 455.6L2557.4 455.6Z"/>
<path d="M2569.9 460.9L2579.7 444.9L2560.2 444.9Z"/>
<path d="M2573 450L2582.7 434L2563.2 434Z"/>
<path d="M2576.4 438.9L2586.1 422.9L2566.6 422.9Z"/>
<path d="M2579.9 427.5L2589.6 411.5L2570.1 411.5Z"/>
<path d="M2583.4 415.9L2593.2 399.9L2573.7 399.9Z"/>
<path d="M2586.6 403.9L2596.3 387.9L2576.8 387.9Z"/>
<path d="M2590.9 390.7L2600.6 374.7L2581.1 374.7Z"/>
<path d="M2594.6 377.6L2604.4 361.6L2584.9 361.6Z"/>
<path d="M2598.8 364.5L2608.5 348.5L2589 348.5Z"/>
<path d="M2603.5 351.3L2613.2 335.3L2593.7 335.3Z"/>
<path d="M2607.8 338.2L2617.5 322.2L2598 322.2Z"/>
<path d="M2611.9 325.1L2621.6 309.1L2602.1 309.1Z"/>
<path d="M2616.6 312L2626.3 296L2606.8 296Z"/>
<path d="M2621.3 298.8L2631 282.8L2611.5 282.8Z"/>
<path d="M2626.5 285.7L2636.3 269.7L2616.8 269.7Z"/>
<path d="M2631.6 272.6L2641.3 256.6L2621.8 256.6Z"/>
<path d="M2637.2 260.4L2647 244.4L2627.5 244.4Z"/>
<path d="M2642.8 248.2L2652.6 232.2L2633.1 232.2Z"/>
<path d="M2648.5 236L2658.2 220L2638.7 220Z"/>
<path d="M2653.5 224.8L2663.3 208.8L2643.8 208.8Z"/>
<path d="M2659.7 212.6L2669.5 196.6L2650 196.6Z"/>
<path d="M2665.3 201.3L2675.1 185.3L2655.6 185.3Z"/>
<path d="M2671 190.1L2680.7 174.1L2661.2 174.1Z"/>
<path d="M2676.6 180.7L2686.4 164.7L2666.9 164.7Z"/>
<path d="M2683.2 173.2L2692.9 157.2L2673.4 157.2Z"/>
<path d="M2689.7 166.6L2699.5 150.6L2680 150.6Z"/>
<path d="M2696.3 161.9L2706 145.9L2686.5 145.9Z"/>
<path d="M2702.9 157.2L2712.6 141.2L2693.1 141.2Z"/>
<path d="M2709.4 153.5L2719.2 137.5L2699.7 137.5Z"/>
<path d="M2716 149.7L2725.7 133.7L2706.2 133.7Z"/>
<path d="M2722.6 146.9L2732.3 130.9L2712.8 130.9Z"/>
<path d="M2729.1 145L2738.9 129L2719.4 129Z"/>
<path d="M2737.6 144.1L2747.3 128.1L2727.8 128.1Z"/>
<path d="M2746.9 144.1L2756.7 128.1L2737.2 128.1Z"/>
<path d="M2756.3 144.1L2766.1 128.1L2746.6 128.1Z"/>
<path d="M2765.7 145L2775.4 129L2755.9 129Z"/>
<path d="M2776 147.9L2785.8 131.9L2766.3 131.9Z"/>
<path d="M2786.3 152.5L2796.1 136.5L2776.6 136.5Z"/>
<path d="M2797.6 160.1L2807.3 144.1L2787.8 144.1Z"/>
<path d="M2811.6 166.6L2821.4 150.6L2801.9 150.6Z"/>
<path d="M2825.7 176L2835.5 160L2816 160Z"/>
<path d="M2838.8 187.2L2848.6 171.2L2829.1 171.2Z"/>
<path d="M2852 201.3L2861.7 185.3L2842.2 185.3Z"/>
<path d="M2865.1 218.2L2874.8 202.2L2855.3 202.2Z"/>
<path d="M2880.1 234.1L2889.8 218.1L2870.3 218.1Z"/>
<path d="M2894.2 253.8L2903.9 237.8L2884.4 237.8Z"/>
<path d="M2907.3 274.5L2917 258.5L2897.5 258.5Z"/>
<path d="M2920.4 295.1L2930.2 279.1L2910.7 279.1Z"/>
<path d="M2934.5 317.6L2944.2 301.6L2924.7 301.6Z"/>
<path d="M2945.7 340.1L2955.5 324.1L2936 324.1Z"/>
<path d="M2955.1 362.6L2964.9 346.6L2945.4 346.6Z"/>
<path d="M2968 385.4L2977.8 369.4L2958.3 369.4Z"/>
<path d="M2978.4 407.7L2988.1 391.7L2968.6 391.7Z"/>
<path d="M2987.7 431.8L2997.4 415.8L2977.9 415.8Z"/>
<path d="M2997.3 452.5L3007 436.5L2987.5 436.5Z"/>
<path d="M3005.6 474.2L3015.3 458.2L2995.8 458.2Z"/>
<path d="M3013.5 494.9L3023.2 478.9L3003.7 478.9Z"/>
<path d="M3021.1 515.5L3030.8 499.5L3011.3 499.5Z"/>
<path d="M3028.3 535.2L3038 519.2L3018.5 519.2Z"/>
<path d="M3034.1 553.4L3043.9 537.4L3024.4 537.4Z"/>
<path d="M3039.3 571.3L3049.1 555.3L3029.6 555.3Z"/>
<path d="M3045.5 588.5L3055.3 572.5L3035.8 572.5Z"/>
<path d="M3047.3 606.5L3057.1 590.5L3037.6 590.5Z"/>
<path d="M3053 622.6L3062.7 606.6L3043.2 606.6Z"/>
<path d="M3057.6 638L3067.3 622L3047.8 622Z"/>
<path d="M3061.8 652.7L3071.5 636.7L3052 636.7Z"/>
<path d="M3065.2 666.6L3075 650.6L3055.5 650.6Z"/>
<path d="M3068.7 679.8L3078.4 663.8L3058.9 663.8Z"/>
<path d="M3072.1 692.1L3081.8 676.1L3062.3 676.1Z"/>
<path d="M3074.9 703.9L3084.7 687.9L3065.2 687.9Z"/>
<path d="M3077.5 715L3087.2 699L3067.7 699Z"/>
<path d="M3079.9 725.5L3089.6 709.5L3070.1 709.5Z"/>
<path d="M3081.9 735.5L3091.6 719.5L3072.1 719.5Z"/>
<path d="M3083.8 745L3093.5 729L3074 729Z"/>
<path d="M3085.4 753.9L3095.1 737.9L3075.6 737.9Z"/>
<path d="M3086.6 762.4L3096.4 746.4L3076.9 746.4Z"/>
<path d="M3087.7 770.4L3097.4 754.4L3077.9 754.4Z"/>
<path d="M3088.6 778L3098.4 762L3078.9 762Z"/>
<path d="M3089.5 785.2L3099.3 769.2L3079.8 769.2Z"/>
<path d="M3090.3 792L3100.1 776L3080.6 776Z"/>
<path d="M3091 798.4L3100.7 782.4L3081.2 782.4Z"/>
</g>
<path d="M2196.3 921 L2196.9 916.9 L2197.5 912.5 L2198.4 908 L2199.5 903.1 L2200.6 898 L2201.8 892.5 L2203 886.7 L2204.3 880.6 L2205.8 874.1 L2207.2 867.1 L2208.7 859.7 L2210.3 851.9 L2212.2 843.6 L2214.4 834.9 L2216.6 825.6 L2218.7 815.7 L2221.3 805.2 L2224.5 794.3 L2228 782.2 L2231.4 770.2 L2236.6 756.4 L2241.1 742.6 L2246.9 727.1 L2253.1 709.9 L2260 691.7 L2268.3 672 L2276.9 650.3 L2287.2 626.2 L2299.6 601.4 L2314.1 573.2 L2329.9 544.1 L2348.5 511.7 L2369.2 478 L2392.6 442.9 L2419.8 406.4 L2449.4 368.5 L2483.5 330.6 L2520.7 294.5 L2562 258.6 L2605.7 225.6 L2653.3 196.7 L2702.5 172.2 L2754.2 152.6 L2807.2 139.5 L2861.6 132.6 L2915.7 132.6 L2970.4 139.8 L3024.5 152.6 L3077.2 172.2 L3129.9 198.4 L3179.8 229.4 L3228 265.2 L3274.2 304.8 L3317.2 347.8 L3356.1 391.9 L3393 436.7 L3425.7 481.4 L3455.3 526.2 L3481.8 568.6 L3504.9 609 L3525.5 646.9 L3542.7 681.7 L3558.2 714.4 L3572 744.3 L3583.4 771.9 L3593 796 L3601.6 819.1 L3609.2 839 L3615.4 857.3 L3621.3 874.2 L3626.4 889.7 L3630.9 902.7 L3634.4 914.3 L3637.3 925.1 L3640 935.3 L3642.5 944.8 L3644.8 953.7 L3647 962 L3648.9 969.7 L3650.7 977 L3652.3 983.8 L3653.6 990.2 L3654.8 996.2 L3655.8 1001.8 L3656.5 1007 L3657.2 1012 L3657.9 1016.6 L3658.5 1020.9" fill="none" stroke="#fe3e3e" stroke-width="4" stroke-linejoin="round"/>
<g fill="#fe3e3e">
<circle cx="2196.3" cy="921" r="9"/>
<circle cx="2196.9" cy="916.9" r="9"/>
<circle cx="2197.5" cy="912.5" r="9"/>
<circle cx="2198.4" cy="908" r="9"/>
<circle cx="2199.5" cy="903.1" r="9"/>
<circle cx="2200.6" cy="898" r="9"/>
<circle cx="2201.8" cy="892.5" r="9"/>
<circle cx="2203" cy="886.7" r="9"/>
<circle cx="2204.3" cy="880.6" r="9"/>
<circle cx="2205.8" cy="874.1" r="9"/>
<circle cx="2207.2" cy="867.1" r="9"/>
<circle cx="2208.7" cy="859.7" r="9"/>
<circle cx="2210.3" cy="851.9" r="9"/>
<circle cx="2212.2" cy="843.6" r="9"/>
<circle cx="2214.4" cy="834.9" r="9"/>
<circle cx="2216.6" cy="825.6" r="9"/>
<circle cx="2218.7" cy="815.7" r="9"/>
<circle cx="2221.3" cy="805.2" r="9"/>
<circle cx="2224.5" cy="794.3" r="9"/>
<circle cx="2228" cy="782.2" r="9"/>
<circle cx="2231.4" cy="770.2" r="9"/>
<circle cx="2236.6" cy="756.4" r="9"/>
<circle cx="2241.1" cy="742.6" r="9"/>
<circle cx="2246.9" cy="727.1" r="9"/>
<circle cx="2253.1" cy="709.9" r="9"/>
<circle cx="2260" cy="691.7" r="9"/>
<circle cx="2268.3" cy="672" r="9"/>
<circle cx="2276.9" cy="650.3" r="9"/>
<circle cx="2287.2" cy="626.2" r="9"/>
<circle cx="2299.6" cy="601.4" r="9"/>
<circle cx="2314.1" cy="573.2" r="9"/>
<circle cx="2329.9" cy="544.1" r="9"/>
<circle cx="2348.5" cy="511.7" r="9"/>
<circle cx="2369.2" cy="478" r="9"/>
<circle cx="2392.6" cy="442.9" r="9"/>
<circle cx="2419.8" cy="406.4" r="9"/>
<circle cx="2449.4" cy="368.5" r="9"/>
<circle cx="2483.5" cy="330.6" r="9"/>
<circle cx="2520.7" cy="294.5" r="9"/>
<circle cx="2562" cy="258.6" r="9"/>
<circle cx="2605.7" cy="225.6" r="9"/>
<circle cx="2653.3" cy="196.7" r="9"/>
<circle cx="2702.5" cy="172.2" r="9"/>
<circle cx="2754.2" cy="152.6" r="9"/>
<circle cx="2807.2" cy="139.5" r="9"/>
<circle cx="2861.6" cy="132.6" r="9"/>
<circle cx="2915.7" cy="132.6" r="9"/>
<circle cx="2970.4" cy="139.8" r="9"/>
<circle cx="3024.5" cy="152.6" r="9"/>
<circle cx="3077.2" cy="172.2" r="9"/>
<circle cx="3129.9" cy="198.4" r="9"/>
<circle cx="3179.8" cy="229.4" r="9"/>
<circle cx="3228" cy="265.2" r="9"/>
<circle cx="3274.2" cy="304.8" r="9"/>
<circle cx="3317.2" cy="347.8" r="9"/>
<circle cx="3356.1" cy="391.9" r="9"/>
<circle cx="3393" cy="436.7" r="9"/>
<circle cx="3425.7" cy="481.4" r="9"/>
<circle cx="3455.3" cy="526.2" r="9"/>
<circle cx="3481.8" cy="568.6" r="9"/>
<circle cx="3504.9" cy="609" r="9"/>
<circle cx="3525.5" cy="646.9" r="9"/>
<circle cx="3542.7" cy="681.7" r="9"/>
<circle cx="3558.2" cy="714.4" r="9"/>
<circle cx="3572" cy="744.3" r="9"/>
<circle cx="3583.4" cy="771.9" r="9"/>
<circle cx="3593" cy="796" r="9"/>
<circle cx="3601.6" cy="819.1" r="9"/>
<circle cx="3609.2" cy="839" r="9"/>
<circle cx="3615.4" cy="857.3" r="9"/>
<circle cx="3621.3" cy="874.2" r="9"/>
<circle cx="3626.4" cy="889.7" r="9"/>
<circle cx="3630.9" cy="902.7" r="9"/>
<circle cx="3634.4" cy="914.3" r="9"/>
<circle cx="3637.3" cy="925.1" r="9"/>
<circle cx="3640" cy="935.3" r="9"/>
<circle cx="3642.5" cy="944.8" r="9"/>
<circle cx="3644.8" cy="953.7" r="9"/>
<circle cx="3647" cy="962" r="9"/>
<circle cx="3648.9" cy="969.7" r="9"/>
<circle cx="3650.7" cy="977" r="9"/>
<circle cx="3652.3" cy="983.8" r="9"/>
<circle cx="3653.6" cy="990.2" r="9"/>
<circle cx="3654.8" cy="996.2" r="9"/>
<circle cx="3655.8" cy="1001.8" r="9"/>
<circle cx="3656.5" cy="1007" r="9"/>
<circle cx="3657.2" cy="1012" r="9"/>
<circle cx="3657.9" cy="1016.6" r="9"/>
<circle cx="3658.5" cy="1020.9" r="9"/>
</g>
<path d="M1313.1 2182.1 L1313.1 2177 L1313.1 2171.6 L1313.4 2166.1 L1314.1 2160.2 L1314.8 2154.1 L1315.5 2147.6 L1316.4 2140.9 L1317.2 2133.8 L1318.2 2126.3 L1319.1 2118.6 L1320.6 2110.4 L1322.2 2102 L1323.9 2093 L1325.8 2083.7 L1327.8 2074 L1330 2063.7 L1332.4 2053 L1334.9 2041.8 L1337.7 2030 L1340.8 2017.7 L1344 2004.8 L1347.4 1991.3 L1351 1977.1 L1355.4 1962.4 L1361.6 1945.2 L1367.5 1925.2 L1373.7 1903.2 L1381.3 1879.8 L1390.6 1853.9 L1400.9 1825.9 L1413 1795.9 L1427.1 1763.2 L1443.9 1726.7 L1462.9 1688.8 L1483.9 1648.5 L1508 1606.5 L1536.2 1565.2 L1566.5 1525.2 L1598.2 1487.4 L1629.9 1455.7 L1663 1428.1 L1689.5 1408.5 L1713.6 1396.5 L1732.5 1390.3 L1744.6 1387.8 L1754.9 1387.8 L1763.5 1389.2 L1773.8 1393.7 L1788.3 1402.3 L1804.8 1416.1 L1817.9 1430.5 L1832.4 1447.1 L1846.8 1466.7 L1860.6 1487.7 L1874.4 1509.7 L1886.8 1533.8 L1897.8 1557.3 L1909.9 1581.4 L1920.2 1605.5 L1928.8 1628.9 L1939.1 1652 L1947.7 1676.1 L1957.4 1698.4 L1961.6 1718.4 L1966.7 1739.1 L1972.9 1758.7 L1978.1 1778.7 L1983.3 1798.3 L1987.4 1816.6 L1991.9 1835 L1994.8 1850.8 L1997.7 1866 L2000.4 1880.5 L2003 1894.5 L2005.5 1907.9 L2008 1920.7 L2010.3 1933.1 L2012.5 1944.9 L2014.6 1956.3 L2016.7 1967.2 L2018.6 1977.7 L2020.5 1987.7 L2022.3 1997.4 L2024.1 2006.6 L2025.7 2015.5 L2027.3 2024 L2028.9 2032.2 L2030.3 2040 L2031.7 2047.6 L2033.1 2054.8 L2034 2061.8 L2034.8 2068.5 L2035.6 2075 L2036.4 2081.2 L2037 2087.1 L2037.5 2092.8 L2037.9 2098.3 L2038.4 2103.6" fill="none" stroke="#006fe0" stroke-width="4.5" stroke-linejoin="round"/>
<g fill="#006fe0">
<rect x="1305.1" y="2174.1" width="16" height="16"/>
<rect x="1305.1" y="2169" width="16" height="16"/>
<rect x="1305.1" y="2163.6" width="16" height="16"/>
<rect x="1305.4" y="2158.1" width="16" height="16"/>
<rect x="1306.1" y="2152.2" width="16" height="16"/>
<rect x="1306.8" y="2146.1" width="16" height="16"/>
<rect x="1307.5" y="2139.6" width="16" height="16"/>
<rect x="1308.4" y="2132.9" width="16" height="16"/>
<rect x="1309.2" y="2125.8" width="16" height="16"/>
<rect x="1310.2" y="2118.3" width="16" height="16"/>
<rect x="1311.1" y="2110.6" width="16" height="16"/>
<rect x="1312.6" y="2102.4" width="16" height="16"/>
<rect x="1314.2" y="2094" width="16" height="16"/>
<rect x="1315.9" y="2085" width="16" height="16"/>
<rect x="1317.8" y="2075.7" width="16" height="16"/>
<rect x="1319.8" y="2066" width="16" height="16"/>
<rect x="1322" y="2055.7" width="16" height="16"/>
<rect x="1324.4" y="2045" width="16" height="16"/>
<rect x="1326.9" y="2033.8" width="16" height="16"/>
<rect x="1329.7" y="2022" width="16" height="16"/>
<rect x="1332.8" y="2009.7" width="16" height="16"/>
<rect x="1336" y="1996.8" width="16" height="16"/>
<rect x="1339.4" y="1983.3" width="16" height="16"/>
<rect x="1343" y="1969.1" width="16" height="16"/>
<rect x="1347.4" y="1954.4" width="16" height="16"/>
<rect x="1353.6" y="1937.2" width="16" height="16"/>
<rect x="1359.5" y="1917.2" width="16" height="16"/>
<rect x="1365.7" y="1895.2" width="16" height="16"/>
<rect x="1373.3" y="1871.8" width="16" height="16"/>
<rect x="1382.6" y="1845.9" width="16" height="16"/>
<rect x="1392.9" y="1817.9" width="16" height="16"/>
<rect x="1405" y="1787.9" width="16" height="16"/>
<rect x="1419.1" y="1755.2" width="16" height="16"/>
<rect x="1435.9" y="1718.7" width="16" height="16"/>
<rect x="1454.9" y="1680.8" width="16" height="16"/>
<rect x="1475.9" y="1640.5" width="16" height="16"/>
<rect x="1500" y="1598.5" width="16" height="16"/>
<rect x="1528.2" y="1557.2" width="16" height="16"/>
<rect x="1558.5" y="1517.2" width="16" height="16"/>
<rect x="1590.2" y="1479.4" width="16" height="16"/>
<rect x="1621.9" y="1447.7" width="16" height="16"/>
<rect x="1655" y="1420.1" width="16" height="16"/>
<rect x="1681.5" y="1400.5" width="16" height="16"/>
<rect x="1705.6" y="1388.5" width="16" height="16"/>
<rect x="1724.5" y="1382.3" width="16" height="16"/>
<rect x="1736.6" y="1379.8" width="16" height="16"/>
<rect x="1746.9" y="1379.8" width="16" height="16"/>
<rect x="1755.5" y="1381.2" width="16" height="16"/>
<rect x="1765.8" y="1385.7" width="16" height="16"/>
<rect x="1780.3" y="1394.3" width="16" height="16"/>
<rect x="1796.8" y="1408.1" width="16" height="16"/>
<rect x="1809.9" y="1422.5" width="16" height="16"/>
<rect x="1824.4" y="1439.1" width="16" height="16"/>
<rect x="1838.8" y="1458.7" width="16" height="16"/>
<rect x="1852.6" y="1479.7" width="16" height="16"/>
<rect x="1866.4" y="1501.7" width="16" height="16"/>
<rect x="1878.8" y="1525.8" width="16" height="16"/>
<rect x="1889.8" y="1549.3" width="16" height="16"/>
<rect x="1901.9" y="1573.4" width="16" height="16"/>
<rect x="1912.2" y="1597.5" width="16" height="16"/>
<rect x="1920.8" y="1620.9" width="16" height="16"/>
<rect x="1931.1" y="1644" width="16" height="16"/>
<rect x="1939.7" y="1668.1" width="16" height="16"/>
<rect x="1949.4" y="1690.4" width="16" height="16"/>
<rect x="1953.6" y="1710.4" width="16" height="16"/>
<rect x="1958.7" y="1731.1" width="16" height="16"/>
<rect x="1964.9" y="1750.7" width="16" height="16"/>
<rect x="1970.1" y="1770.7" width="16" height="16"/>
<rect x="1975.3" y="1790.3" width="16" height="16"/>
<rect x="1979.4" y="1808.6" width="16" height="16"/>
<rect x="1983.9" y="1827" width="16" height="16"/>
<rect x="1986.8" y="1842.8" width="16" height="16"/>
<rect x="1989.7" y="1858" width="16" height="16"/>
<rect x="1992.4" y="1872.5" width="16" height="16"/>
<rect x="1995" y="1886.5" width="16" height="16"/>
<rect x="1997.5" y="1899.9" width="16" height="16"/>
<rect x="2000" y="1912.7" width="16" height="16"/>
<rect x="2002.3" y="1925.1" width="16" height="16"/>
<rect x="2004.5" y="1936.9" width="16" height="16"/>
<rect x="2006.6" y="1948.3" width="16" height="16"/>
<rect x="2008.7" y="1959.2" width="16" height="16"/>
<rect x="2010.6" y="1969.7" width="16" height="16"/>
<rect x="2012.5" y="1979.7" width="16" height="16"/>
<rect x="2014.3" y="1989.4" width="16" height="16"/>
<rect x="2016.1" y="1998.6" width="16" height="16"/>
<rect x="2017.7" y="2007.5" width="16" height="16"/>
<rect x="2019.3" y="2016" width="16" height="16"/>
<rect x="2020.9" y="2024.2" width="16" height="16"/>
<rect x="2022.3" y="2032" width="16" height="16"/>
<rect x="2023.7" y="2039.6" width="16" height="16"/>
<rect x="2025.1" y="2046.8" width="16" height="16"/>
<rect x="2026" y="2053.8" width="16" height="16"/>
<rect x="2026.8" y="2060.5" width="16" height="16"/>
<rect x="2027.6" y="2067" width="16" height="16"/>
<rect x="2028.4" y="2073.2" width="16" height="16"/>
<rect x="2029" y="2079.1" width="16" height="16"/>
<rect x="2029.5" y="2084.8" width="16" height="16"/>
<rect x="2029.9" y="2090.3" width="16" height="16"/>
<rect x="2030.4" y="2095.6" width="16" height="16"/>
</g>
<path d="M1227.3 2163.9 L1228 2158.9 L1228.6 2153.7 L1229.3 2148.3 L1230.2 2142.6 L1231.4 2136.7 L1232.6 2130.6 L1233.9 2124.2 L1235 2117.4 L1236.2 2110.3 L1237.4 2102.9 L1238.7 2095.1 L1240.2 2087 L1241.8 2078.6 L1243.4 2069.7 L1245.2 2060.4 L1247 2050.7 L1248.9 2040.6 L1250.9 2030 L1253 2018.9 L1255.1 2007.2 L1257.4 1995.1 L1259.8 1982.3 L1261.4 1972.7 L1264.9 1960.7 L1269.4 1946.2 L1272.8 1931.4 L1278 1915.9 L1283.1 1899.7 L1289 1881.5 L1295.9 1862.5 L1303.8 1841.9 L1312.4 1819.7 L1322.7 1795.9 L1334.1 1769 L1348.6 1741.5 L1365.1 1711.2 L1384 1678.8 L1407.1 1644.4 L1434 1607.9 L1466.7 1570 L1504.6 1531.4 L1551 1492.9 L1604.1 1456.7 L1665.4 1425.7 L1736 1401.6 L1815.2 1389.2 L1900.6 1389.2 L1991.2 1403.3 L2083.8 1435 L2173.4 1480.5 L2257 1536.6 L2331.8 1598.6 L2395.8 1662.3 L2449.2 1727 L2494.6 1786.3 L2530.8 1842.6 L2560.7 1891.8 L2584.9 1936.6 L2604.1 1976.2 L2620.3 2011.3 L2633.1 2042.6 L2644.4 2070.2 L2653 2094 L2661 2115.6 L2666.8 2134.6 L2672 2151.1 L2677.1 2165.6 L2680.6 2179.4 L2684 2193.2 L2686.1 2205.8 L2688.1 2217 L2690.1 2227.1 L2691.9 2236.1 L2693.5 2244.1 L2695 2251.3 L2696.3 2257.8 L2697.4 2263.6 L2698.5 2268.8 L2700.6 2273" fill="none" stroke="#4f4f4f" stroke-width="4.5" stroke-linejoin="round"/>
<g fill="#4f4f4f">
<path d="M1227.3 2154.9L1234.8 2158.9L1234.8 2168.9L1227.3 2172.9L1219.8 2168.9L1219.8 2158.9Z"/>
<path d="M1228 2149.9L1235.5 2153.9L1235.5 2163.9L1228 2167.9L1220.5 2163.9L1220.5 2153.9Z"/>
<path d="M1228.6 2144.7L1236.1 2148.7L1236.1 2158.7L1228.6 2162.7L1221.1 2158.7L1221.1 2148.7Z"/>
<path d="M1229.3 2139.3L1236.8 2143.3L1236.8 2153.3L1229.3 2157.3L1221.8 2153.3L1221.8 2143.3Z"/>
<path d="M1230.2 2133.6L1237.7 2137.6L1237.7 2147.6L1230.2 2151.6L1222.7 2147.6L1222.7 2137.6Z"/>
<path d="M1231.4 2127.7L1238.9 2131.7L1238.9 2141.7L1231.4 2145.7L1223.9 2141.7L1223.9 2131.7Z"/>
<path d="M1232.6 2121.6L1240.1 2125.6L1240.1 2135.6L1232.6 2139.6L1225.1 2135.6L1225.1 2125.6Z"/>
<path d="M1233.9 2115.2L1241.4 2119.2L1241.4 2129.2L1233.9 2133.2L1226.4 2129.2L1226.4 2119.2Z"/>
<path d="M1235 2108.4L1242.5 2112.4L1242.5 2122.4L1235 2126.4L1227.5 2122.4L1227.5 2112.4Z"/>
<path d="M1236.2 2101.3L1243.7 2105.3L1243.7 2115.3L1236.2 2119.3L1228.7 2115.3L1228.7 2105.3Z"/>
<path d="M1237.4 2093.9L1244.9 2097.9L1244.9 2107.9L1237.4 2111.9L1229.9 2107.9L1229.9 2097.9Z"/>
<path d="M1238.7 2086.1L1246.2 2090.1L1246.2 2100.1L1238.7 2104.1L1231.2 2100.1L1231.2 2090.1Z"/>
<path d="M1240.2 2078L1247.7 2082L1247.7 2092L1240.2 2096L1232.7 2092L1232.7 2082Z"/>
<path d="M1241.8 2069.6L1249.3 2073.6L1249.3 2083.6L1241.8 2087.6L1234.3 2083.6L1234.3 2073.6Z"/>
<path d="M1243.4 2060.7L1250.9 2064.7L1250.9 2074.7L1243.4 2078.7L1235.9 2074.7L1235.9 2064.7Z"/>
<path d="M1245.2 2051.4L1252.7 2055.4L1252.7 2065.4L1245.2 2069.4L1237.7 2065.4L1237.7 2055.4Z"/>
<path d="M1247 2041.7L1254.5 2045.7L1254.5 2055.7L1247 2059.7L1239.5 2055.7L1239.5 2045.7Z"/>
<path d="M1248.9 2031.6L1256.4 2035.6L1256.4 2045.6L1248.9 2049.6L1241.4 2045.6L1241.4 2035.6Z"/>
<path d="M1250.9 2021L1258.4 2025L1258.4 2035L1250.9 2039L1243.4 2035L1243.4 2025Z"/>
<path d="M1253 2009.9L1260.5 2013.9L1260.5 2023.9L1253 2027.9L1245.5 2023.9L1245.5 2013.9Z"/>
<path d="M1255.1 1998.2L1262.6 2002.2L1262.6 2012.2L1255.1 2016.2L1247.6 2012.2L1247.6 2002.2Z"/>
<path d="M1257.4 1986.1L1264.9 1990.1L1264.9 2000.1L1257.4 2004.1L1249.9 2000.1L1249.9 1990.1Z"/>
<path d="M1259.8 1973.3L1267.3 1977.3L1267.3 1987.3L1259.8 1991.3L1252.3 1987.3L1252.3 1977.3Z"/>
<path d="M1261.4 1963.7L1268.9 1967.7L1268.9 1977.7L1261.4 1981.7L1253.9 1977.7L1253.9 1967.7Z"/>
<path d="M1264.9 1951.7L1272.4 1955.7L1272.4 1965.7L1264.9 1969.7L1257.4 1965.7L1257.4 1955.7Z"/>
<path d="M1269.4 1937.2L1276.9 1941.2L1276.9 1951.2L1269.4 1955.2L1261.9 1951.2L1261.9 1941.2Z"/>
<path d="M1272.8 1922.4L1280.3 1926.4L1280.3 1936.4L1272.8 1940.4L1265.3 1936.4L1265.3 1926.4Z"/>
<path d="M1278 1906.9L1285.5 1910.9L1285.5 1920.9L1278 1924.9L1270.5 1920.9L1270.5 1910.9Z"/>
<path d="M1283.1 1890.7L1290.6 1894.7L1290.6 1904.7L1283.1 1908.7L1275.6 1904.7L1275.6 1894.7Z"/>
<path d="M1289 1872.5L1296.5 1876.5L1296.5 1886.5L1289 1890.5L1281.5 1886.5L1281.5 1876.5Z"/>
<path d="M1295.9 1853.5L1303.4 1857.5L1303.4 1867.5L1295.9 1871.5L1288.4 1867.5L1288.4 1857.5Z"/>
<path d="M1303.8 1832.9L1311.3 1836.9L1311.3 1846.9L1303.8 1850.9L1296.3 1846.9L1296.3 1836.9Z"/>
<path d="M1312.4 1810.7L1319.9 1814.7L1319.9 1824.7L1312.4 1828.7L1304.9 1824.7L1304.9 1814.7Z"/>
<path d="M1322.7 1786.9L1330.2 1790.9L1330.2 1800.9L1322.7 1804.9L1315.2 1800.9L1315.2 1790.9Z"/>
<path d="M1334.1 1760L1341.6 1764L1341.6 1774L1334.1 1778L1326.6 1774L1326.6 1764Z"/>
<path d="M1348.6 1732.5L1356.1 1736.5L1356.1 1746.5L1348.6 1750.5L1341.1 1746.5L1341.1 1736.5Z"/>
<path d="M1365.1 1702.2L1372.6 1706.2L1372.6 1716.2L1365.1 1720.2L1357.6 1716.2L1357.6 1706.2Z"/>
<path d="M1384 1669.8L1391.5 1673.8L1391.5 1683.8L1384 1687.8L1376.5 1683.8L1376.5 1673.8Z"/>
<path d="M1407.1 1635.4L1414.6 1639.4L1414.6 1649.4L1407.1 1653.4L1399.6 1649.4L1399.6 1639.4Z"/>
<path d="M1434 1598.9L1441.5 1602.9L1441.5 1612.9L1434 1616.9L1426.5 1612.9L1426.5 1602.9Z"/>
<path d="M1466.7 1561L1474.2 1565L1474.2 1575L1466.7 1579L1459.2 1575L1459.2 1565Z"/>
<path d="M1504.6 1522.4L1512.1 1526.4L1512.1 1536.4L1504.6 1540.4L1497.1 1536.4L1497.1 1526.4Z"/>
<path d="M1551 1483.9L1558.5 1487.9L1558.5 1497.9L1551 1501.9L1543.5 1497.9L1543.5 1487.9Z"/>
<path d="M1604.1 1447.7L1611.6 1451.7L1611.6 1461.7L1604.1 1465.7L1596.6 1461.7L1596.6 1451.7Z"/>
<path d="M1665.4 1416.7L1672.9 1420.7L1672.9 1430.7L1665.4 1434.7L1657.9 1430.7L1657.9 1420.7Z"/>
<path d="M1736 1392.6L1743.5 1396.6L1743.5 1406.6L1736 1410.6L1728.5 1406.6L1728.5 1396.6Z"/>
<path d="M1815.2 1380.2L1822.7 1384.2L1822.7 1394.2L1815.2 1398.2L1807.7 1394.2L1807.7 1384.2Z"/>
<path d="M1900.6 1380.2L1908.1 1384.2L1908.1 1394.2L1900.6 1398.2L1893.1 1394.2L1893.1 1384.2Z"/>
<path d="M1991.2 1394.3L1998.7 1398.3L1998.7 1408.3L1991.2 1412.3L1983.7 1408.3L1983.7 1398.3Z"/>
<path d="M2083.8 1426L2091.3 1430L2091.3 1440L2083.8 1444L2076.3 1440L2076.3 1430Z"/>
<path d="M2173.4 1471.5L2180.9 1475.5L2180.9 1485.5L2173.4 1489.5L2165.9 1485.5L2165.9 1475.5Z"/>
<path d="M2257 1527.6L2264.5 1531.6L2264.5 1541.6L2257 1545.6L2249.5 1541.6L2249.5 1531.6Z"/>
<path d="M2331.8 1589.6L2339.3 1593.6L2339.3 1603.6L2331.8 1607.6L2324.3 1603.6L2324.3 1593.6Z"/>
<path d="M2395.8 1653.3L2403.3 1657.3L2403.3 1667.3L2395.8 1671.3L2388.3 1667.3L2388.3 1657.3Z"/>
<path d="M2449.2 1718L2456.7 1722L2456.7 1732L2449.2 1736L2441.7 1732L2441.7 1722Z"/>
<path d="M2494.6 1777.3L2502.1 1781.3L2502.1 1791.3L2494.6 1795.3L2487.1 1791.3L2487.1 1781.3Z"/>
<path d="M2530.8 1833.6L2538.3 1837.6L2538.3 1847.6L2530.8 1851.6L2523.3 1847.6L2523.3 1837.6Z"/>
<path d="M2560.7 1882.8L2568.2 1886.8L2568.2 1896.8L2560.7 1900.8L2553.2 1896.8L2553.2 1886.8Z"/>
<path d="M2584.9 1927.6L2592.4 1931.6L2592.4 1941.6L2584.9 1945.6L2577.4 1941.6L2577.4 1931.6Z"/>
<path d="M2604.1 1967.2L2611.6 1971.2L2611.6 1981.2L2604.1 1985.2L2596.6 1981.2L2596.6 1971.2Z"/>
<path d="M2620.3 2002.3L2627.8 2006.3L2627.8 2016.3L2620.3 2020.3L2612.8 2016.3L2612.8 2006.3Z"/>
<path d="M2633.1 2033.6L2640.6 2037.6L2640.6 2047.6L2633.1 2051.6L2625.6 2047.6L2625.6 2037.6Z"/>
<path d="M2644.4 2061.2L2651.9 2065.2L2651.9 2075.2L2644.4 2079.2L2636.9 2075.2L2636.9 2065.2Z"/>
<path d="M2653 2085L2660.5 2089L2660.5 2099L2653 2103L2645.5 2099L2645.5 2089Z"/>
<path d="M2661 2106.6L2668.5 2110.6L2668.5 2120.6L2661 2124.6L2653.5 2120.6L2653.5 2110.6Z"/>
<path d="M2666.8 2125.6L2674.3 2129.6L2674.3 2139.6L2666.8 2143.6L2659.3 2139.6L2659.3 2129.6Z"/>
<path d="M2672 2142.1L2679.5 2146.1L2679.5 2156.1L2672 2160.1L2664.5 2156.1L2664.5 2146.1Z"/>
<path d="M2677.1 2156.6L2684.6 2160.6L2684.6 2170.6L2677.1 2174.6L2669.6 2170.6L2669.6 2160.6Z"/>
<path d="M2680.6 2170.4L2688.1 2174.4L2688.1 2184.4L2680.6 2188.4L2673.1 2184.4L2673.1 2174.4Z"/>
<path d="M2684 2184.2L2691.5 2188.2L2691.5 2198.2L2684 2202.2L2676.5 2198.2L2676.5 2188.2Z"/>
<path d="M2686.1 2196.8L2693.6 2200.8L2693.6 2210.8L2686.1 2214.8L2678.6 2210.8L2678.6 2200.8Z"/>
<path d="M2688.1 2208L2695.6 2212L2695.6 2222L2688.1 2226L2680.6 2222L2680.6 2212Z"/>
<path d="M2690.1 2218.1L2697.6 2222.1L2697.6 2232.1L2690.1 2236.1L2682.6 2232.1L2682.6 2222.1Z"/>
<path d="M2691.9 2227.1L2699.4 2231.1L2699.4 2241.1L2691.9 2245.1L2684.4 2241.1L2684.4 2231.1Z"/>
<path d="M2693.5 2235.1L2701 2239.1L2701 2249.1L2693.5 2253.1L2686 2249.1L2686 2239.1Z"/>
<path d="M2695 2242.3L2702.5 2246.3L2702.5 2256.3L2695 2260.3L2687.5 2256.3L2687.5 2246.3Z"/>
<path d="M2696.3 2248.8L2703.8 2252.8L2703.8 2262.8L2696.3 2266.8L2688.8 2262.8L2688.8 2252.8Z"/>
<path d="M2697.4 2254.6L2704.9 2258.6L2704.9 2268.6L2697.4 2272.6L2689.9 2268.6L2689.9 2258.6Z"/>
<path d="M2698.5 2259.8L2706 2263.8L2706 2273.8L2698.5 2277.8L2691 2273.8L2691 2263.8Z"/>
<path d="M2700.6 2264L2708.1 2268L2708.1 2278L2700.6 2282L2693.1 2278L2693.1 2268Z"/>
</g>
<path d="M271.6 824.3H957" stroke="#000" stroke-width="4" stroke-dasharray="22 19.5"/>
<path d="M269 833V1113" stroke="#000" stroke-width="4" stroke-dasharray="21 20.6"/>
<path d="M890 1025.5H1003" stroke="#000" stroke-width="4" stroke-dasharray="21 20.5"/>
<path d="M1005 1028V1113" stroke="#000" stroke-width="4" stroke-dasharray="21 20.5"/>
<path d="M927 850V998" stroke="#000" stroke-width="4"/>
<path d="M927 819.8L935.7 854.5L918.3 854.5Z M927 1030L935.7 995.3L918.3 995.3Z" fill="#000"/>
<path d="M297 1070.8H978" stroke="#000" stroke-width="4"/>
<path d="M265 1070.8L300 1062.3L300 1079.3Z M1009 1070.8L975 1062.3L975 1079.3Z" fill="#000"/>
<g font-family="Liberation Serif, serif" font-size="52">
<text x="622" y="938" font-style="italic">f</text>
<text x="647" y="938" font-style="italic">(</text>
<text x="662" y="938" font-style="italic">a</text>
<text x="688" y="952" font-size="33">1</text>
<text x="705" y="938">)</text>
<text x="731" y="938" transform="translate(731 0) scale(1.12 1) translate(-731 0)">=</text>
<text x="772" y="938">−</text>
<text x="802" y="938" letter-spacing="-1.2">0.223</text>
<text x="635" y="1043">a</text>
<text x="658" y="1056.5" font-size="33">1</text>
<text x="686" y="1043" transform="translate(686 0) scale(1.1 1) translate(-686 0)">=</text>
<text x="729" y="1043" letter-spacing="-1">0.688</text>
</g>
<rect x="1544" y="62" width="196" height="188.6" fill="#fff" stroke="#000" stroke-width="2.3"/>
<path d="M1550.6 95H1660.5" stroke="#4f4f4f" stroke-width="4" stroke-linecap="round"/>
<g fill="#4f4f4f"><path d="M1605.5 84.3L1615.2 100.3L1595.8 100.3Z"/></g>
<text x="1672" y="112" font-family="Liberation Serif, serif" font-size="50">N1</text>
<path d="M1550.6 156.6H1660.5" stroke="#fe3e3e" stroke-width="4" stroke-linecap="round"/>
<g fill="#fe3e3e"><circle cx="1605.5" cy="156.6" r="9"/></g>
<text x="1672" y="173.6" font-family="Liberation Serif, serif" font-size="50">N2</text>
<path d="M1550.6 217.2H1660.5" stroke="#006fe0" stroke-width="4" stroke-linecap="round"/>
<g fill="#006fe0"><path d="M1605.5 206.2L1616.5 217.2L1605.5 228.2L1594.5 217.2Z"/></g>
<text x="1672" y="234.2" font-family="Liberation Serif, serif" font-size="50">N3</text>
<rect x="3522" y="66" width="196" height="129.7" fill="#fff" stroke="#000" stroke-width="2.2"/>
<path d="M3529 100.6H3638.7" stroke="#4f4f4f" stroke-width="4" stroke-linecap="round"/>
<g fill="#4f4f4f"><path d="M3583.9 111.3L3593.7 95.3L3574.2 95.3Z"/></g>
<text x="3650" y="116.6" font-family="Liberation Serif, serif" font-size="50">N4</text>
<path d="M3529 161.4H3638.7" stroke="#fe3e3e" stroke-width="4" stroke-linecap="round"/>
<g fill="#fe3e3e"><circle cx="3583.9" cy="161.4" r="9"/></g>
<text x="3650" y="177.4" font-family="Liberation Serif, serif" font-size="50">N5</text>
<rect x="2540" y="1313" width="199.5" height="132" fill="#fff" stroke="#000" stroke-width="3.7"/>
<path d="M2545 1348.4H2661" stroke="#006fe0" stroke-width="5" stroke-linecap="butt"/>
<g fill="#006fe0"><rect x="2594" y="1340.4" width="16" height="16"/></g>
<text x="2670" y="1365.4" font-family="Liberation Serif, serif" font-size="50">N6</text>
<path d="M2545 1410.5H2661" stroke="#767676" stroke-width="5" stroke-linecap="butt"/>
<g fill="#4f4f4f"><path d="M2602 1401.5L2609.5 1405.5L2609.5 1415.5L2602 1419.5L2594.5 1415.5L2594.5 1405.5Z"/></g>
<text x="2670" y="1427.5" font-family="Liberation Serif, serif" font-size="50">N7</text>
</svg>
</body></html>
